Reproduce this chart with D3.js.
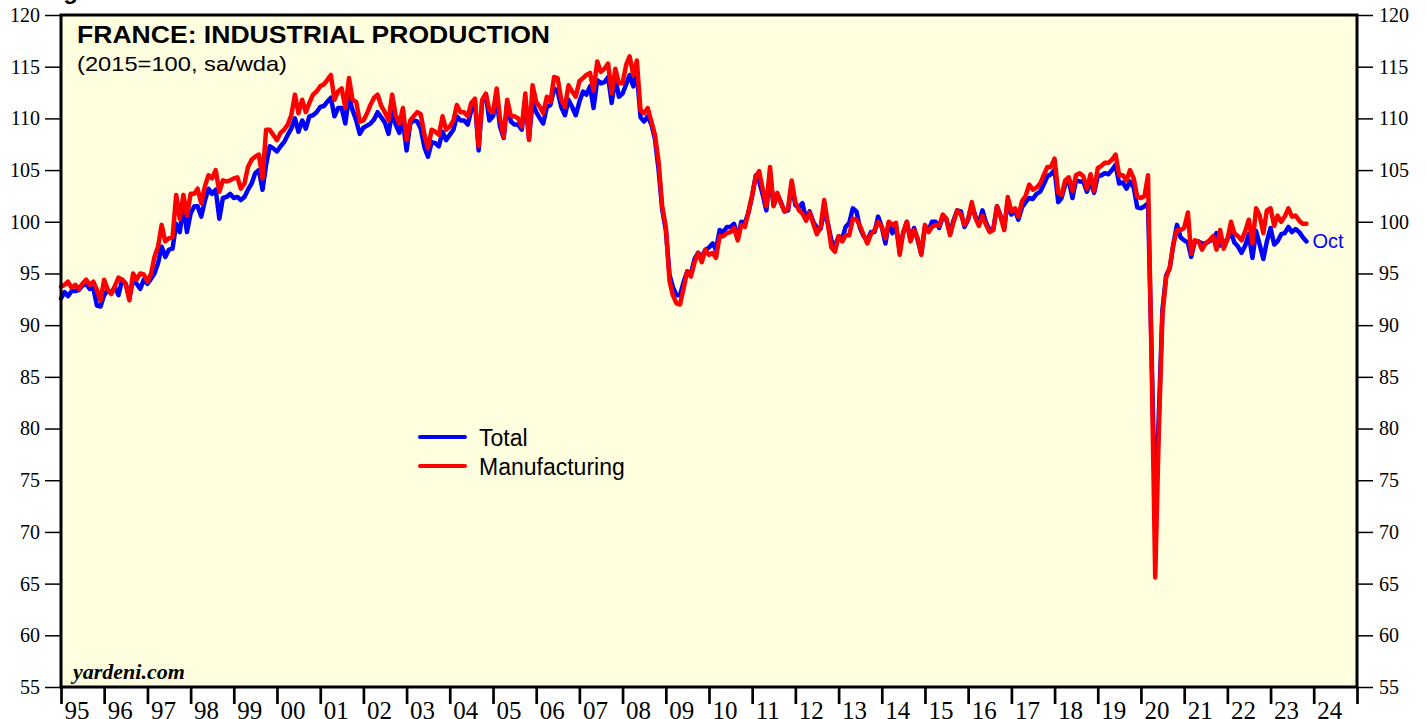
<!DOCTYPE html>
<html>
<head>
<meta charset="utf-8">
<script src="https://cdn.jsdelivr.net/npm/d3@7"></script>
<style>
  html, body { margin: 0; padding: 0; background: #fff; }
  svg { display: block; }
</style>
</head>
<body>
<svg id="chart"></svg>
<script>
// monthly values, first one is Dec 1994, each plotted at the end of its month
const firstMonth = new Date(1994, 11, 1);

const total = [
  92.6, 93.2, 92.8, 93.3, 93.3, 93.4, 93.8, 94.0, 93.5, 93.6, 91.9, 91.8,
  92.9, 93.4, 93.1, 93.7, 92.9, 94.4, 94.0, 92.6, 94.4, 94.0, 93.5, 94.4,
  94.0, 94.5, 95.0, 96.0, 97.6, 96.6, 97.3, 97.4, 99.8, 99.0, 101.5, 99.0,
  100.8, 101.5, 101.5, 100.5, 102.0, 103.2, 102.7, 103.1, 100.3, 102.3, 102.4, 102.7,
  102.3, 102.4, 102.1, 102.4, 103.1, 103.7, 104.7, 105.0, 103.1, 105.5, 107.3, 107.1,
  106.8, 107.3, 107.7, 108.4, 109.0, 110.0, 108.7, 109.8, 109.0, 110.2, 110.3, 110.6,
  111.1, 111.2, 111.6, 112.0, 110.2, 111.0, 111.0, 109.5, 112.1, 110.8, 109.8, 108.5,
  109.1, 109.3, 109.5, 109.9, 110.6, 110.1, 109.6, 108.5, 110.6, 109.4, 108.6, 109.8,
  106.9, 109.5, 109.8, 109.7, 109.0, 107.2, 106.3, 107.7, 107.6, 107.3, 108.7, 107.9,
  108.4, 108.9, 110.2, 109.8, 109.8, 109.4, 110.8, 111.6, 106.9, 111.6, 112.3, 109.8,
  110.2, 111.9, 109.2, 108.1, 111.5, 109.7, 109.4, 109.4, 108.9, 111.8, 108.1, 111.5,
  110.6, 110.0, 109.5, 111.1, 111.3, 112.9, 112.6, 111.1, 110.3, 111.8, 111.1, 110.3,
  111.6, 112.6, 112.3, 113.1, 111.0, 113.7, 113.4, 113.5, 114.0, 111.5, 113.9, 112.1,
  112.4, 113.3, 114.2, 113.1, 114.4, 110.1, 109.7, 110.2, 109.4, 108.0, 105.0, 101.2,
  99.2, 94.9, 93.7, 92.9, 92.9, 94.2, 95.2, 95.0, 96.4, 97.0, 96.6, 97.3,
  97.5, 97.9, 97.3, 99.2, 99.0, 99.5, 99.5, 99.8, 98.4, 100.0, 99.9, 100.9,
  102.5, 104.5, 103.9, 102.6, 101.1, 104.7, 101.6, 102.6, 101.9, 101.0, 101.1, 103.7,
  101.6, 101.4, 101.8, 100.2, 101.0, 100.0, 99.4, 99.3, 101.0, 99.9, 98.2, 97.6,
  98.6, 98.4, 99.5, 99.9, 101.3, 101.0, 99.4, 98.6, 98.2, 99.0, 99.0, 100.5,
  99.5, 97.9, 99.9, 98.9, 99.5, 97.3, 98.9, 100.0, 98.2, 99.4, 98.2, 96.9,
  99.5, 99.2, 100.0, 100.0, 99.4, 100.5, 100.2, 98.9, 100.2, 101.1, 101.0, 99.5,
  100.2, 101.6, 100.6, 99.8, 101.1, 99.9, 99.2, 99.3, 101.5, 100.6, 99.4, 101.9,
  100.7, 101.1, 100.2, 101.4, 101.9, 102.3, 102.2, 102.7, 102.9, 103.6, 104.4, 104.6,
  105.0, 101.9, 102.3, 103.6, 104.0, 102.3, 104.0, 103.9, 103.9, 102.9, 103.9, 102.8,
  104.4, 104.5, 104.7, 104.6, 105.0, 105.5, 103.7, 103.8, 103.2, 103.9, 103.3, 101.4,
  101.3, 101.5, 101.8, 87.0, 71.5, 81.5, 91.5, 94.8, 95.5, 97.8, 99.7, 98.5,
  98.2, 98.0, 96.6, 98.1, 98.1, 97.9, 97.9, 98.1, 98.3, 98.9, 97.7, 98.0,
  98.3, 99.0, 98.0, 97.6, 97.0, 97.7, 98.8, 96.5, 99.1, 97.8, 96.4, 98.1,
  99.4, 97.8, 98.1, 98.8, 98.9, 99.5, 99.0, 99.3, 99.0, 98.5, 98.1
];

const manufacturing = [
  93.7, 93.9, 94.2, 93.6, 93.9, 93.5, 94.0, 94.4, 93.9, 94.2, 93.4, 92.4,
  94.4, 93.4, 93.0, 93.8, 94.6, 94.4, 94.0, 92.4, 95.0, 94.4, 95.0, 94.9,
  94.2, 95.0, 96.6, 97.6, 99.7, 98.1, 98.4, 98.5, 102.6, 100.3, 102.6, 100.6,
  102.7, 102.7, 103.2, 101.8, 103.4, 104.5, 104.2, 105.0, 102.9, 104.0, 103.9, 104.0,
  104.2, 104.3, 103.2, 103.7, 105.3, 106.0, 106.3, 106.5, 104.2, 108.9, 108.9, 108.4,
  107.9, 108.6, 108.9, 109.4, 110.3, 112.3, 110.5, 111.8, 110.6, 111.5, 112.3, 112.6,
  113.1, 113.3, 113.7, 114.2, 111.8, 112.6, 112.9, 111.0, 113.9, 111.8, 111.6, 109.7,
  109.8, 110.5, 111.3, 112.0, 112.3, 111.2, 110.6, 109.8, 112.3, 110.3, 109.5, 111.0,
  107.9, 109.8, 110.2, 110.6, 110.4, 108.4, 107.1, 108.9, 108.7, 108.4, 110.2, 108.9,
  109.2, 109.8, 111.3, 110.6, 110.6, 110.2, 111.5, 111.9, 107.3, 111.8, 112.4, 110.8,
  110.6, 112.9, 110.0, 108.2, 111.8, 110.2, 110.2, 110.0, 109.2, 112.4, 107.9, 113.2,
  111.6, 111.1, 110.5, 112.1, 111.6, 114.0, 113.9, 111.8, 111.1, 113.2, 112.6, 112.1,
  113.6, 113.9, 114.2, 114.4, 112.7, 115.5, 114.5, 114.8, 115.3, 112.4, 114.8, 113.4,
  113.4, 115.2, 116.0, 114.2, 115.6, 110.8, 110.5, 111.0, 109.7, 108.4, 105.8, 101.5,
  99.5, 94.3, 92.9, 92.1, 92.0, 93.6, 95.2, 94.7, 96.1, 97.0, 96.1, 97.3,
  96.8, 97.0, 96.5, 98.6, 98.6, 98.9, 99.0, 99.4, 98.2, 99.7, 99.5, 101.0,
  102.6, 104.4, 104.9, 103.1, 101.5, 105.3, 101.5, 102.8, 101.8, 101.0, 101.3, 104.0,
  101.9, 101.1, 100.8, 100.1, 100.9, 99.8, 98.8, 99.5, 102.1, 99.9, 97.5, 97.1,
  98.6, 98.1, 98.7, 98.7, 100.3, 100.2, 99.6, 98.7, 97.9, 98.8, 99.2, 100.0,
  99.5, 98.4, 100.0, 99.7, 99.9, 96.8, 99.0, 100.0, 98.1, 99.2, 98.4, 96.8,
  99.7, 99.0, 99.5, 99.7, 99.6, 100.7, 100.3, 98.7, 100.0, 101.1, 100.7, 99.7,
  100.3, 101.9, 100.4, 99.6, 100.6, 99.7, 99.0, 99.2, 101.5, 100.5, 99.2, 102.4,
  101.0, 101.3, 100.5, 102.0, 102.5, 103.6, 103.1, 103.3, 103.7, 104.5, 105.3, 105.3,
  106.1, 102.8, 102.6, 104.0, 104.3, 103.0, 104.5, 104.7, 104.4, 103.2, 104.6, 103.0,
  105.2, 105.4, 105.7, 105.7, 106.0, 106.5, 104.5, 104.5, 104.0, 105.0, 104.2, 102.4,
  102.3, 102.5, 104.5, 86.0, 65.6, 80.0, 91.0, 94.6, 95.6, 97.8, 99.2, 99.2,
  99.4, 100.9, 96.9, 98.2, 98.1, 97.3, 97.9, 98.2, 98.6, 97.3, 99.2, 97.4,
  98.3, 100.0, 98.9, 98.6, 98.2, 99.1, 100.2, 97.9, 101.3, 100.6, 98.9, 101.1,
  101.3, 99.6, 100.6, 100.0, 100.5, 101.3, 100.5, 100.6, 100.1, 99.8, 99.8
];

const yTicks = [55, 60, 65, 70, 75, 80, 85, 90, 95, 100, 105, 110, 115, 120];
const yearTicks = d3.range(1995, 2026);
const seriesNames = ["Total", "Manufacturing"];
const seriesColors = ["#0000ff", "#ff0000"];
const lastLabel = "Oct";

const W = 1427, H = 719;
const margin = { top: 15, right: 70, bottom: 32, left: 61 };
const serif = "'Liberation Serif', 'Times New Roman', serif";
const sans = "'Liberation Sans', Arial, Helvetica, sans-serif";

const svg = d3.select("#chart").attr("width", W).attr("height", H);

const x = d3.scaleTime()
  .domain([new Date(1995, 0, 1), new Date(2025, 0, 1)])
  .range([margin.left, W - margin.right]);
const y = d3.scaleLinear()
  .domain([55, 120])
  .range([H - margin.bottom, margin.top]);

const toPoints = arr => arr.map((v, i) => ({ date: d3.timeMonth.offset(firstMonth, i + 1), value: v }));
const series = [toPoints(total), toPoints(manufacturing)];

// plot background
svg.append("rect")
  .attr("x", x.range()[0]).attr("y", y.range()[1])
  .attr("width", x.range()[1] - x.range()[0])
  .attr("height", y.range()[0] - y.range()[1])
  .attr("fill", "#ffffe0");

// y axes, both sides
const leftAxis = svg.append("g")
  .attr("transform", `translate(${x.range()[0]},0)`)
  .call(d3.axisLeft(y).tickValues(yTicks).tickSize(16).tickPadding(5));
const rightAxis = svg.append("g")
  .attr("transform", `translate(${x.range()[1]},0)`)
  .call(d3.axisRight(y).tickValues(yTicks).tickSize(16).tickPadding(6));
[leftAxis, rightAxis].forEach(g => {
  g.select(".domain").remove();
  g.selectAll(".tick line").attr("stroke", "#000").attr("stroke-width", 1.5);
  g.selectAll(".tick text").attr("font-family", serif).attr("font-size", 20).attr("fill", "#000");
});

// x axis: year ticks, labels just right of each tick
const xTickAxis = svg.append("g")
  .attr("transform", `translate(0,${y.range()[0]})`)
  .call(d3.axisBottom(x).tickValues(yearTicks.map(yr => new Date(yr, 0, 1))).tickSize(17).tickFormat(""));
xTickAxis.select(".domain").remove();
xTickAxis.selectAll(".tick line").attr("stroke", "#000").attr("stroke-width", 2.7);

const xLabelAxis = svg.append("g")
  .attr("transform", `translate(0,${y.range()[0]})`)
  .call(d3.axisBottom(x)
    .tickValues(yearTicks.slice(0, -1).map(yr => new Date(yr, 0, 1)))
    .tickSize(0).tickPadding(14)
    .tickFormat(d3.timeFormat("%y")));
xLabelAxis.select(".domain").remove();
xLabelAxis.selectAll(".tick text")
  .attr("font-family", serif).attr("font-size", 25).attr("fill", "#000")
  .attr("text-anchor", "start").attr("x", 3);

// lines
const line = d3.line().x(d => x(d.date)).y(d => y(d.value));
svg.append("g").selectAll("path")
  .data(series)
  .join("path")
  .attr("d", line)
  .attr("fill", "none")
  .attr("stroke", (d, i) => seriesColors[i])
  .attr("stroke-width", 4.5)
  .attr("stroke-linejoin", "round")
  .attr("stroke-linecap", "round");

// end label
const lastTotal = series[0][series[0].length - 1];
svg.append("text")
  .attr("x", x(lastTotal.date) + 6).attr("y", y(lastTotal.value) + 7)
  .attr("font-family", sans).attr("font-size", 20).attr("fill", seriesColors[0])
  .text(lastLabel);

// frame
svg.append("rect")
  .attr("x", x.range()[0]).attr("y", y.range()[1])
  .attr("width", x.range()[1] - x.range()[0])
  .attr("height", y.range()[0] - y.range()[1])
  .attr("fill", "none").attr("stroke", "#000").attr("stroke-width", 3);

// titles
svg.append("text")
  .attr("x", 42).attr("y", -1)
  .attr("font-family", sans).attr("font-weight", "bold").attr("font-size", 24)
  .text("Figure 1.");
svg.append("text")
  .attr("x", 77).attr("y", 43)
  .attr("font-family", sans).attr("font-weight", "bold").attr("font-size", 24)
  .attr("textLength", 473).attr("lengthAdjust", "spacingAndGlyphs")
  .text("FRANCE: INDUSTRIAL PRODUCTION");
svg.append("text")
  .attr("x", 77).attr("y", 71)
  .attr("font-family", sans).attr("font-size", 21)
  .attr("textLength", 210).attr("lengthAdjust", "spacingAndGlyphs")
  .text("(2015=100, sa/wda)");
svg.append("text")
  .attr("x", 73).attr("y", 679)
  .attr("font-family", serif).attr("font-weight", "bold").attr("font-style", "italic").attr("font-size", 22)
  .text("yardeni.com");

// legend
const legend = svg.append("g").selectAll("g")
  .data(seriesNames)
  .join("g")
  .attr("transform", (d, i) => `translate(420,${437 + i * 29})`);
legend.append("line")
  .attr("x1", 0).attr("x2", 45)
  .attr("stroke", (d, i) => seriesColors[i])
  .attr("stroke-width", 4).attr("stroke-linecap", "round");
legend.append("text")
  .attr("x", 59).attr("y", 9)
  .attr("font-family", sans).attr("font-size", 23).attr("fill", "#000")
  .text(d => d);
</script>
</body>
</html>
